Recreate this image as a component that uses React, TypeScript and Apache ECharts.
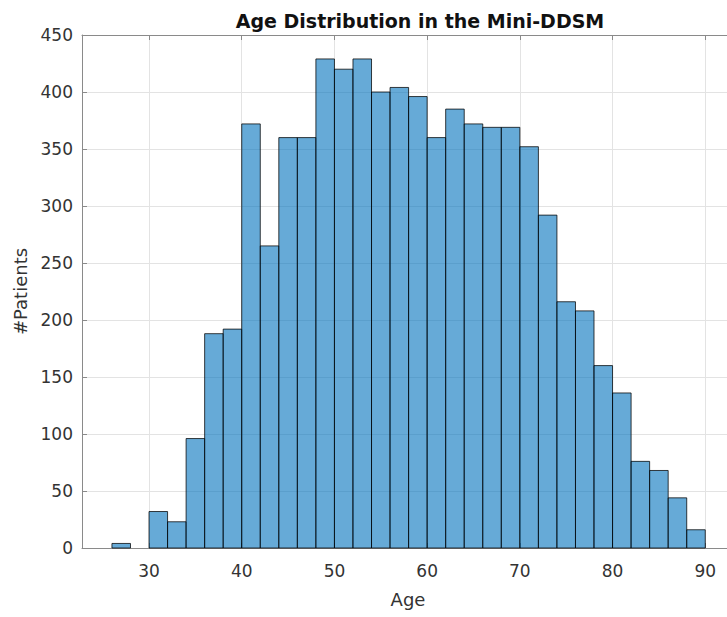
import React, { useEffect, useRef } from "react";
import * as echarts from "echarts";

const binEdges = [26, 28, 30, 32, 34, 36, 38, 40, 42, 44, 46, 48, 50, 52, 54, 56, 58, 60, 62, 64, 66, 68, 70, 72, 74, 76, 78, 80, 82, 84, 86, 88, 90];
const counts = [4, 0, 32, 23, 96, 188, 192, 372, 265, 360, 360, 429, 420, 429, 400, 404, 396, 360, 385, 372, 369, 369, 352, 292, 216, 208, 160, 136, 76, 68, 44, 16];
const titleText = "Age Distribution in the Mini-DDSM";
const xName = "Age";
const yName = "#Patients";

const FONT = "DejaVu Sans";

export default function App() {
  const ref = useRef<HTMLDivElement>(null);
  useEffect(() => {
    if (!ref.current) return;
    const chart = echarts.init(ref.current, undefined, { renderer: "svg" });
    const data = counts.map((c, i) => [binEdges[i], binEdges[i + 1], c]);
    const axisColor = "#8a8a8a";
    const labelColor = "#333";
    chart.setOption({
      animation: false,
      backgroundColor: "#fff",
      title: {
        text: titleText,
        left: 415,
        top: 6,
        textAlign: "center",
        textStyle: { fontFamily: FONT, fontWeight: "bold", fontSize: 19, color: "#111" },
      },
      grid: { left: 82, right: -7, top: 35, bottom: 69, containLabel: false, outerBoundsMode: "none" },
      xAxis: [
        {
          type: "value",
          min: 22.77,
          max: 93.1,
          minInterval: 10,
          maxInterval: 10,
          name: xName,
          nameLocation: "middle",
          nameGap: 42,
          nameTextStyle: { fontFamily: FONT, fontSize: 18, color: labelColor },
          axisLine: { show: true, lineStyle: { color: axisColor, width: 1 } },
          axisTick: { show: true, inside: true, length: 5, lineStyle: { color: axisColor } },
          axisLabel: {
            fontFamily: FONT,
            fontSize: 17,
            color: labelColor,
            margin: 14,
            formatter: (v: number) => (Math.abs(v / 10 - Math.round(v / 10)) < 1e-6 ? String(v) : ""),
          },
          splitLine: { show: true, lineStyle: { color: "#e3e3e3", width: 1 } },
        },
        {
          type: "value",
          position: "top",
          min: 22.77,
          max: 93.1,
          minInterval: 10,
          maxInterval: 10,
          axisLine: { show: true, onZero: false, lineStyle: { color: axisColor, width: 1 } },
          axisTick: { show: true, inside: true, length: 5, lineStyle: { color: axisColor } },
          axisLabel: { show: false },
          splitLine: { show: false },
        },
      ],
      yAxis: {
        type: "value",
        min: 0,
        max: 450,
        interval: 50,
        name: yName,
        nameLocation: "middle",
        nameGap: 53,
        nameTextStyle: { fontFamily: FONT, fontSize: 18, color: labelColor },
        axisLine: { show: true, lineStyle: { color: axisColor, width: 1 } },
        axisTick: { show: true, inside: true, length: 5, lineStyle: { color: axisColor } },
        axisLabel: { fontFamily: FONT, fontSize: 17, color: labelColor, margin: 9 },
        splitLine: { show: true, lineStyle: { color: "#e3e3e3", width: 1 } },
      },
      series: [
        {
          type: "custom",
          xAxisIndex: 0,
          yAxisIndex: 0,
          encode: { x: [0, 1], y: 2 },
          data,
          renderItem: (params: any, api: any) => {
            if (!api.value(2)) return null;
            const tl = api.coord([api.value(0), api.value(2)]);
            const br = api.coord([api.value(1), 0]);
            return {
              type: "rect",
              shape: { x: tl[0], y: tl[1], width: br[0] - tl[0], height: br[1] - tl[1] },
              style: { fill: "rgba(0,114,189,0.6)", stroke: "rgba(0,0,0,0.75)", lineWidth: 1 },
            };
          },
        },
      ],
    });
    return () => chart.dispose();
  }, []);
  return <div ref={ref} style={{ position: "fixed", left: 0, top: 0, width: 727, height: 617 }} />;
}
